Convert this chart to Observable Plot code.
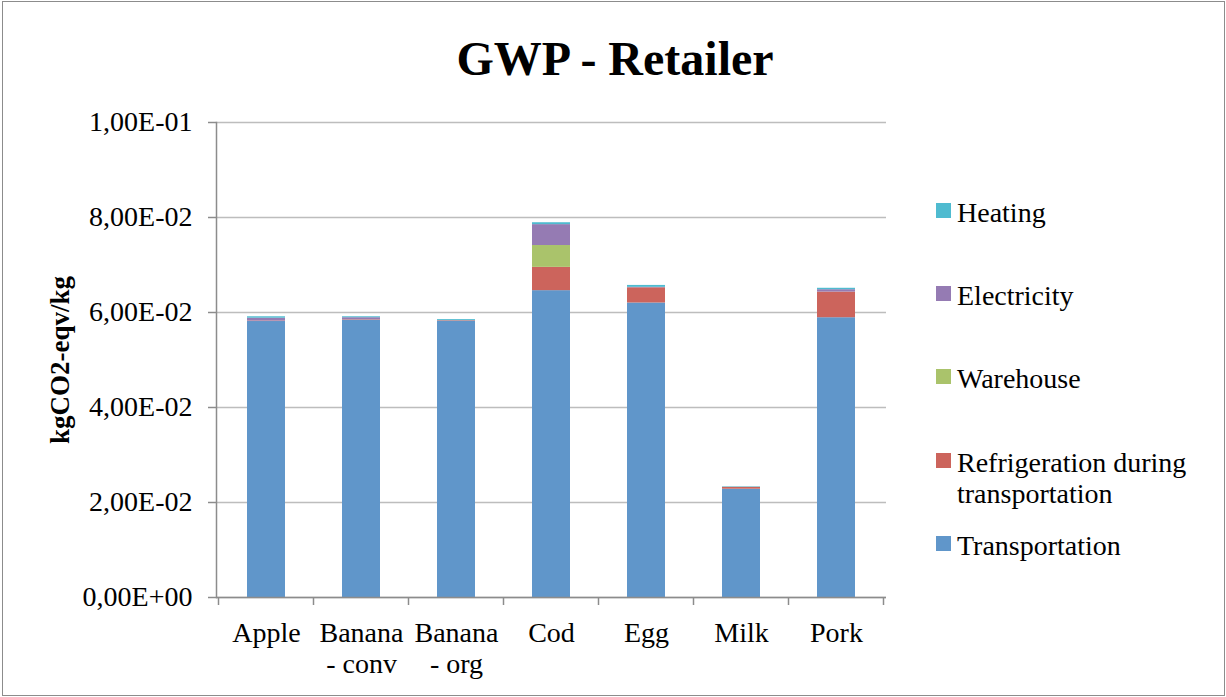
<!DOCTYPE html>
<html>
<head>
<meta charset="utf-8">
<script src="https://cdn.jsdelivr.net/npm/d3@7"></script>
<script src="https://cdn.jsdelivr.net/npm/@observablehq/plot@0.6"></script>
<style>
  html, body { margin: 0; padding: 0; background: #fff; }
  #chart {
    position: relative; width: 1226px; height: 697px; overflow: hidden;
    font-family: "Liberation Serif", "DejaVu Serif", serif; color: #000;
  }
  #frame {
    position: absolute; left: 2px; top: 1px; width: 1221px; height: 693px;
    border: 1px solid #8c8c8c; pointer-events: none;
  }
  #title {
    position: absolute; left: 0; width: 1230px; top: 29px; text-align: center;
    font-weight: bold; font-size: 48px; line-height: 60px;
  }
  #plot { position: absolute; left: 0; top: 0; }
  .legend-item { position: absolute; left: 936px; font-size: 28px; line-height: 31px; }
  .legend-item .sw { position: absolute; left: 0; top: 5px; width: 15px; height: 15px; }
  .legend-item .lbl { position: absolute; left: 21px; top: 0; white-space: nowrap; }
</style>
</head>
<body>
<div id="chart">
  <div id="plot"></div>
  <div id="title">GWP - Retailer</div>
  <div id="legend"></div>
  <div id="frame"></div>
</div>
<script>
// Products on the x axis
const categories = ["Apple", "Banana - conv", "Banana - org", "Cod", "Egg", "Milk", "Pork"];

// GWP contributions per product (kgCO2-eqv/kg), one array per stage
const transportation = [0.0581, 0.0584, 0.0582, 0.0646, 0.0620, 0.0228, 0.0589];
const refrigeration  = [0.0001, 0.0001, 0.0001, 0.0049, 0.0032, 0.0004, 0.0054];
const warehouse      = [0.0000, 0.0000, 0.0000, 0.0046, 0.0000, 0.0000, 0.0000];
const electricity    = [0.0006, 0.0004, 0.0000, 0.0044, 0.0001, 0.0000, 0.0005];
const heating        = [0.0003, 0.0002, 0.0002, 0.0004, 0.0004, 0.0001, 0.0003];

// Stack order, bottom to top
const seriesNames = ["Transportation", "Refrigeration during transportation", "Warehouse", "Electricity", "Heating"];
const seriesValues = [transportation, refrigeration, warehouse, electricity, heating];
const seriesColors = ["#6096ca", "#cc645c", "#aac36b", "#957bb3", "#4fbbd0"];

const yTicks = [0, 0.02, 0.04, 0.06, 0.08, 0.1];

const rows = [];
seriesNames.forEach((s, i) => {
  categories.forEach((c, j) => rows.push({ product: c, stage: s, value: seriesValues[i][j] }));
});

const W = 1226, H = 697;
const mL = 216, mR = 340, mT = 122, mB = 100;

// Excel-style scientific labels: 1,00E-01
const sci = d => {
  const [m, e] = d.toExponential(2).split("e");
  const sign = e[0] === "-" ? "-" : "+";
  const ex = e.replace(/^[+-]/, "").padStart(2, "0");
  return m.replace(".", ",") + "E" + sign + ex;
};

const axisColor = "#8c8c8c";

const plot = Plot.plot({
  width: W,
  height: H,
  marginLeft: mL,
  marginRight: mR,
  marginTop: mT,
  marginBottom: mB,
  style: { fontFamily: "'Liberation Serif', 'DejaVu Serif', serif", fontSize: "28px", color: "#000", background: "transparent" },
  x: { domain: categories, paddingInner: 0.6, paddingOuter: 0.3, align: 0.5 },
  y: { domain: [0, 0.1] },
  color: { domain: seriesNames, range: seriesColors },
  marks: [
    Plot.gridY(yTicks, { stroke: "#bdbdbd", strokeOpacity: 1, strokeWidth: 1.5 }),
    Plot.barY(rows, Plot.stackY({
      x: "product", y: "value", fill: "stage", order: seriesNames
    })),
    Plot.axisY(yTicks, {
      tickFormat: sci, tickSize: 8, tickPadding: 16, stroke: axisColor, strokeWidth: 1.5,
      label: null, fontSize: 28
    }),
    Plot.frame({ anchor: "left", stroke: axisColor, strokeWidth: 1.5 }),
    Plot.ruleY([0], { stroke: axisColor, strokeWidth: 1.5 }),
    Plot.axisX({
      tickSize: 0, tickPadding: 23, label: null, fontSize: 28, lineHeight: 1.1,
      tickFormat: d => d.replace(" - ", "\n- ")
    }),
    Plot.text(["kgCO2-eqv/kg"], {
      frameAnchor: "left", dx: -156, rotate: -90, text: d => d,
      fontWeight: "bold", fontSize: 27, textAnchor: "middle"
    })
  ]
});
document.getElementById("plot").appendChild(plot);

// Category boundary tick marks under the x axis (including the right end)
{
  const x = plot.scale("x");
  const y = plot.scale("y");
  const step = x.step;
  const y0 = y.apply(0);
  const bounds = categories.map(c => x.apply(c) - (step - x.bandwidth) / 2);
  bounds.push(bounds[bounds.length - 1] + step);
  d3.select(plot).append("g")
    .attr("stroke", axisColor).attr("stroke-width", 1.5)
    .selectAll("line").data(bounds).join("line")
    .attr("x1", d => d).attr("x2", d => d)
    .attr("y1", y0).attr("y2", y0 + 8);
}

// Legend, top to bottom in reverse stack order
const legendTops = [203, 286, 369, 453, 536];
const legend = document.getElementById("legend");
const legendOrder = seriesNames.map((n, i) => i).reverse();
legendOrder.forEach((idx, k) => {
  const item = document.createElement("div");
  item.className = "legend-item";
  item.style.top = (legendTops[k] - 6) + "px";
  const sw = document.createElement("div");
  sw.className = "sw";
  sw.style.background = seriesColors[idx];
  sw.style.top = "6px";
  const lbl = document.createElement("div");
  lbl.className = "lbl";
  const name = seriesNames[idx];
  lbl.innerHTML = name === "Refrigeration during transportation"
    ? "Refrigeration during<br>transportation" : name;
  item.appendChild(sw);
  item.appendChild(lbl);
  legend.appendChild(item);
});
</script>
</body>
</html>
